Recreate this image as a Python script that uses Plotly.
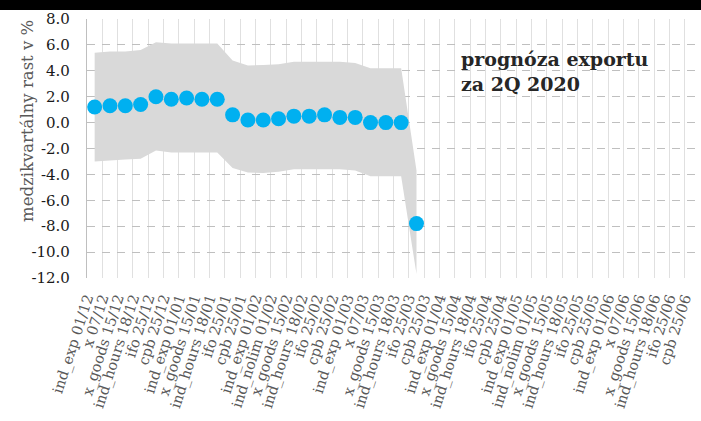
import plotly.graph_objects as go

names = ["ind_exp", "x", "x_goods", "ind_hours", "ifo", "cpb",
         "ind_exp", "x_goods", "ind_hours", "ifo", "cpb",
         "ind_exp", "ind_nolim", "x_goods", "ind_hours", "ifo", "cpb",
         "ind_exp", "x", "x_goods", "ind_hours", "ifo", "cpb",
         "ind_exp", "x_goods", "ind_hours", "ifo", "cpb",
         "ind_exp", "ind_nolim", "x_goods", "ind_hours", "ifo", "cpb",
         "ind_exp", "x", "x_goods", "ind_hours", "ifo", "cpb"]
dates = ["01/12", "07/12", "15/12", "18/12", "25/12", "25/12",
         "01/01", "15/01", "18/01", "25/01", "25/01",
         "01/02", "01/02", "15/02", "18/02", "25/02", "25/02",
         "01/03", "07/03", "15/03", "18/03", "25/03", "25/03",
         "01/04", "15/04", "18/04", "25/04", "25/04",
         "01/05", "01/05", "15/05", "18/05", "25/05", "25/05",
         "01/06", "07/06", "15/06", "18/06", "25/06", "25/06"]
categories = [f"{n} {d}" for n, d in zip(names, dates)]

forecast = [1.2, 1.3, 1.3, 1.4, 2.0, 1.8, 1.9, 1.8, 1.8, 0.6, 0.2,
            0.2, 0.3, 0.5, 0.5, 0.6, 0.4, 0.4, 0.0, 0.0, 0.0, -7.8]
upper = [5.4, 5.5, 5.5, 5.6, 6.2, 6.1, 6.1, 6.1, 6.1, 4.8, 4.4,
         4.45, 4.5, 4.7, 4.7, 4.7, 4.7, 4.6, 4.2, 4.2, 4.2, -3.7]
lower = [-3.0, -2.9, -2.85, -2.8, -2.15, -2.3, -2.3, -2.3, -2.3, -3.5, -3.85,
         -3.9, -3.8, -3.6, -3.6, -3.6, -3.6, -3.7, -4.15, -4.15, -4.15, -11.7]

y_ticks = [8, 6, 4, 2, 0, -2, -4, -6, -8, -10, -12]
y_ticktext = [f"{v:.1f}" for v in y_ticks]

n = len(forecast)
xs = categories[:n]

FONT = "DejaVu Serif"
W, H = 701, 421
L, R, T, B = 87, 1, 19, 143
PW, PH = W - L - R, H - T - B


def px(x):
    return (x - L) / PW


def py(y):
    return (H - B - y) / PH


fig = go.Figure()
fig.add_trace(go.Scatter(x=xs, y=lower, mode="lines", line=dict(width=0),
                         showlegend=False, hoverinfo="skip"))
fig.add_trace(go.Scatter(x=xs, y=upper, mode="lines", line=dict(width=0),
                         fill="tonexty", fillcolor="#D9D9D9",
                         showlegend=False, hoverinfo="skip"))
fig.add_trace(go.Scatter(x=xs, y=forecast, mode="markers",
                         marker=dict(color="#00B0F0", size=15),
                         showlegend=False))

fig.update_layout(
    width=W, height=H,
    margin=dict(l=L, r=R, t=T, b=B, autoexpand=False),
    paper_bgcolor="white", plot_bgcolor="white",
    font=dict(family=FONT, size=14, color="#595959"),
    xaxis=dict(
        type="category",
        categoryorder="array", categoryarray=categories,
        tickmode="array", tickvals=categories, ticktext=categories,
        range=[-0.5, len(categories) - 0.5],
        tickson="boundaries",
        showgrid=True, gridcolor="#E0E0E0", gridwidth=1,
        tickangle=-72, ticks="",
        ticklabelshift=-8, ticklabelstandoff=8,
        automargin=False,
        tickfont=dict(family=FONT, size=14.5, color="#595959"),
        showline=False, zeroline=False,
    ),
    yaxis=dict(
        range=[-12, 8], tickmode="array", tickvals=y_ticks, ticktext=y_ticktext,
        showgrid=True, gridcolor="#BFBFBF", gridwidth=1.3, griddash="8px,7px",
        showline=True, linecolor="#BFBFBF", linewidth=1.3,
        zeroline=False, ticks="",
        ticklabelstandoff=13,
        automargin=False,
        tickfont=dict(family=FONT, size=15, color="#1A1A1A"),
    ),
    shapes=[dict(type="rect", xref="paper", yref="paper",
                 x0=-0.2, x1=1.05, y0=py(10), y1=1.2,
                 fillcolor="black", line=dict(width=0), layer="above")],
    annotations=[
        dict(text="<b>prognóza exportu<br>za 2Q 2020</b>",
             xref="paper", yref="paper",
             x=px(459), y=py(46),
             xanchor="left", yanchor="top", align="left",
             showarrow=False,
             font=dict(family=FONT, size=19, color="#262626")),
        dict(text="medzikvartálny rast v %",
             xref="paper", yref="paper",
             x=px(27), y=py(121), textangle=-90,
             xanchor="center", yanchor="middle",
             showarrow=False,
             font=dict(family=FONT, size=16.5, color="#595959")),
    ],
)

fig.write_html("out.html", config={"displayModeBar": False},
               post_script="document.body.style.margin='0px';")
